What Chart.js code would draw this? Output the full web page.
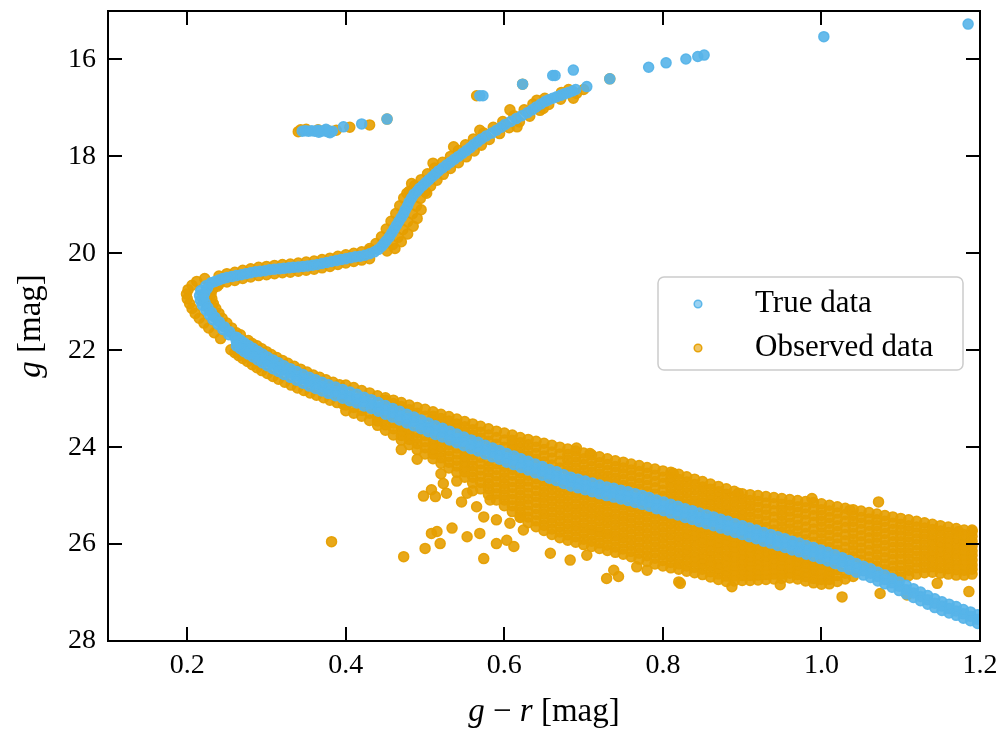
<!DOCTYPE html>
<html><head><meta charset="utf-8">
<script src="https://cdn.jsdelivr.net/npm/chart.js@4.4.1/dist/chart.umd.min.js"></script>
<style>html,body{margin:0;padding:0;background:#fff;}</style>
</head><body>
<canvas id="c" width="1003" height="731"></canvas>
<script>
// ---------- tick labels ----------
const xTickValues = [0.2, 0.4, 0.6, 0.8, 1.0, 1.2];
const yTickValues = [16, 18, 20, 22, 24, 26, 28];
const seriesNames = ['True data', 'Observed data'];

// ---------- True data (g-r, g) ----------
const trueHB = [[0.345,17.48],[0.349,17.47],[0.353,17.48],[0.357,17.47],[0.361,17.48],[0.365,17.46],[0.369,17.48],[0.373,17.47],[0.377,17.49],[0.380,17.51],[0.383,17.48],[0.375,17.44],[0.366,17.50],[0.397,17.39],[0.420,17.33],[0.452,17.23]];
const trueTop = [[0.569,16.75],[0.573,16.75],[0.623,16.51],[0.661,16.33],[0.664,16.33],[0.687,16.22],[0.704,16.56],[0.733,16.40],[0.782,16.16],[0.804,16.07],[0.829,15.99],[0.844,15.94],[0.852,15.91],[1.003,15.53],[1.185,15.27]];
const trueRGB = [[0.690,16.62],[0.686,16.65],[0.681,16.68],[0.676,16.71],[0.671,16.74],[0.666,16.77],[0.661,16.80],[0.656,16.83],[0.652,16.86],[0.646,16.92],[0.640,16.98],[0.635,17.04],[0.629,17.10],[0.622,17.16],[0.615,17.22],[0.608,17.28],[0.601,17.34],[0.596,17.40],[0.590,17.46],[0.584,17.52],[0.577,17.58],[0.571,17.64],[0.566,17.70],[0.561,17.76],[0.557,17.82],[0.552,17.88],[0.547,17.94],[0.542,18.00],[0.537,18.06],[0.532,18.12],[0.527,18.18],[0.522,18.24],[0.517,18.30],[0.513,18.36],[0.509,18.42],[0.505,18.48],[0.501,18.54],[0.497,18.60],[0.493,18.66],[0.490,18.72],[0.486,18.78],[0.483,18.86],[0.480,18.94],[0.478,19.02],[0.475,19.10],[0.473,19.18],[0.470,19.26],[0.467,19.34],[0.464,19.42],[0.461,19.50],[0.458,19.58],[0.455,19.66],[0.451,19.74],[0.448,19.80],[0.445,19.86],[0.441,19.92],[0.436,19.97],[0.430,20.01]];
const trueSGB = [[0.424,20.04],[0.418,20.06],[0.412,20.07],[0.406,20.09],[0.400,20.11],[0.394,20.13],[0.388,20.15],[0.382,20.17],[0.376,20.19],[0.370,20.21],[0.364,20.23],[0.358,20.245],[0.352,20.26],[0.346,20.27],[0.340,20.28],[0.334,20.29],[0.328,20.30],[0.322,20.31],[0.316,20.32],[0.310,20.33],[0.304,20.34],[0.298,20.36],[0.292,20.37],[0.286,20.38],[0.280,20.40],[0.274,20.42],[0.268,20.44],[0.262,20.46],[0.256,20.48],[0.250,20.50],[0.245,20.52],[0.240,20.55],[0.235,20.58],[0.230,20.61]];
const trueTurnoffLeft = [[0.2235,20.67],[0.2170,20.77],[0.2155,20.87],[0.2165,20.97],[0.2190,21.07],[0.2235,21.17],[0.2280,21.27],[0.2325,21.37],[0.2390,21.47],[0.2450,21.57],[0.2525,21.68]];
const trueTurnoffRight = [[0.2255,20.72],[0.2220,20.82],[0.2205,20.92],[0.2225,21.02],[0.2260,21.12],[0.2305,21.22],[0.2350,21.32],[0.2405,21.42],[0.2470,21.52],[0.2535,21.62],[0.2600,21.73]];
const trueBandColor = [0.262,0.267,0.272,0.277,0.283,0.289,0.295,0.301,0.308,0.315,0.322,0.330,0.338,0.346,0.354,0.362,0.370,0.378,0.387,0.396,0.405,0.414,0.423,0.432,0.441,0.450,0.459,0.468,0.477,0.486,0.495,0.504,0.513,0.522,0.531,0.540,0.549,0.558,0.567,0.576,0.585,0.594,0.603,0.612,0.621,0.630,0.639,0.648,0.657,0.666,0.675,0.684,0.693,0.702,0.711,0.720,0.729,0.738,0.747,0.756,0.765,0.774,0.783,0.792,0.801,0.810,0.819,0.828,0.837,0.846,0.855,0.864,0.873,0.882,0.891,0.900,0.909,0.918,0.927,0.936,0.945,0.954,0.963,0.972,0.981,0.990,0.999,1.008,1.017,1.026,1.035,1.044,1.053,1.062,1.071,1.080,1.089,1.098,1.107,1.116,1.125,1.134,1.143,1.152,1.161,1.170,1.179,1.188,1.197];
const trueBandMagCenter = [21.82,21.88,21.94,21.99,22.05,22.11,22.17,22.23,22.29,22.35,22.41,22.47,22.53,22.59,22.65,22.70,22.75,22.80,22.85,22.90,22.95,23.00,23.06,23.11,23.17,23.23,23.29,23.35,23.41,23.47,23.53,23.59,23.65,23.70,23.76,23.82,23.88,23.94,23.99,24.05,24.11,24.16,24.22,24.27,24.33,24.38,24.44,24.49,24.55,24.60,24.66,24.71,24.75,24.79,24.83,24.87,24.91,24.94,24.98,25.01,25.05,25.09,25.13,25.18,25.22,25.27,25.31,25.36,25.40,25.45,25.49,25.53,25.58,25.62,25.67,25.71,25.76,25.80,25.85,25.89,25.94,25.98,26.03,26.07,26.12,26.16,26.21,26.26,26.31,26.37,26.43,26.49,26.55,26.60,26.67,26.73,26.80,26.87,26.94,27.01,27.08,27.15,27.22,27.28,27.33,27.38,27.44,27.49,27.55];
const trueBandMagUpper = [21.73,21.79,21.85,21.90,21.96,22.02,22.08,22.14,22.20,22.26,22.32,22.38,22.44,22.50,22.56,22.61,22.66,22.71,22.76,22.81,22.86,22.91,22.97,23.02,23.08,23.14,23.20,23.26,23.32,23.38,23.44,23.50,23.56,23.61,23.67,23.73,23.79,23.85,23.90,23.96,24.02,24.07,24.13,24.18,24.24,24.29,24.35,24.40,24.46,24.51,24.57,24.62,24.66,24.70,24.74,24.78,24.82,24.85,24.89,24.92,24.96,25.00,25.04,25.09,25.13,25.18,25.22,25.27,25.31,25.36,25.40,25.44,25.49,25.53,25.58,25.62,25.67,25.71,25.76,25.80,25.85,25.89,25.94,25.98,26.03,26.07,26.12,26.17,26.22,26.28,26.34,26.40,26.46,26.51,26.58,26.64,26.71,26.78,26.85,26.92,26.99,27.06,27.13,27.19,27.24,27.29,27.35,27.40,27.46];
const trueBandMagLower = [21.91,21.97,22.03,22.08,22.14,22.20,22.26,22.32,22.38,22.44,22.50,22.56,22.62,22.68,22.74,22.79,22.84,22.89,22.94,22.99,23.04,23.09,23.15,23.20,23.26,23.32,23.38,23.44,23.50,23.56,23.62,23.68,23.74,23.79,23.85,23.91,23.97,24.03,24.08,24.14,24.20,24.25,24.31,24.36,24.42,24.47,24.53,24.58,24.64,24.69,24.75,24.80,24.84,24.88,24.92,24.96,25.00,25.03,25.07,25.10,25.14,25.18,25.22,25.27,25.31,25.36,25.40,25.45,25.49,25.54,25.58,25.62,25.67,25.71,25.76,25.80,25.85,25.89,25.94,25.98,26.03,26.07,26.12,26.16,26.21,26.25,26.30,26.35,26.40,26.46,26.52,26.58,26.64,26.69,26.76,26.82,26.89,26.96,27.03,27.10,27.17,27.24,27.31,27.37,27.42,27.47,27.53,27.58,27.64];

// ---------- Observed data (g-r, g) ----------
const obsHBTop = [[0.340,17.49],[0.343,17.45],[0.350,17.44],[0.365,17.45],[0.378,17.47],[0.388,17.46],[0.405,17.40],[0.430,17.35],[0.452,17.23],[0.565,16.75],[0.623,16.51],[0.733,16.40],[0.687,16.80],[0.641,16.84],[0.649,17.01],[0.616,17.39],[0.607,17.04],[0.700,16.62],[0.681,16.62]];
const obsRGB = [[0.672,16.68],[0.691,16.70],[0.651,16.80],[0.671,16.82],[0.636,16.92],[0.656,16.93],[0.625,17.04],[0.645,17.05],[0.612,17.16],[0.632,17.17],[0.598,17.28],[0.619,17.29],[0.586,17.40],[0.606,17.41],[0.574,17.52],[0.594,17.53],[0.561,17.64],[0.581,17.65],[0.551,17.76],[0.571,17.77],[0.542,17.88],[0.562,17.89],[0.532,18.00],[0.552,18.01],[0.522,18.12],[0.542,18.13],[0.512,18.24],[0.532,18.25],[0.503,18.36],[0.523,18.37],[0.495,18.48],[0.515,18.49],[0.487,18.60],[0.507,18.61],[0.480,18.72],[0.500,18.73],[0.473,18.86],[0.494,18.87],[0.468,19.02],[0.489,19.03],[0.463,19.18],[0.484,19.19],[0.457,19.34],[0.478,19.35],[0.451,19.50],[0.472,19.51],[0.445,19.66],[0.466,19.67],[0.438,19.80],[0.459,19.82],[0.430,19.90],[0.452,19.95],[0.495,19.10],[0.490,19.28],[0.485,19.44],[0.478,19.60],[0.470,19.76],[0.462,19.90],[0.569,17.46],[0.536,17.80],[0.510,18.14],[0.483,18.56],[0.477,18.76],[0.502,18.76]];
const obsSGB = [[0.43,19.94],[0.43,20.11],[0.42,19.97],[0.42,20.14],[0.41,20.00],[0.41,20.17],[0.40,20.03],[0.40,20.20],[0.39,20.06],[0.39,20.23],[0.38,20.10],[0.38,20.27],[0.37,20.13],[0.37,20.30],[0.36,20.16],[0.36,20.33],[0.35,20.18],[0.35,20.35],[0.34,20.20],[0.34,20.37],[0.33,20.22],[0.33,20.39],[0.32,20.23],[0.32,20.40],[0.31,20.25],[0.31,20.42],[0.30,20.27],[0.30,20.44],[0.29,20.29],[0.29,20.46],[0.28,20.32],[0.28,20.49],[0.27,20.35],[0.27,20.52],[0.26,20.39],[0.26,20.56],[0.25,20.42],[0.25,20.59],[0.24,20.47],[0.24,20.64]];
const obsTurnoff = [[0.222,20.52],[0.212,20.58],[0.206,20.66],[0.201,20.75],[0.199,20.84],[0.200,20.94],[0.203,21.04],[0.206,21.14],[0.210,21.24],[0.215,21.34],[0.221,21.44],[0.227,21.54],[0.234,21.64],[0.242,21.76],[0.238,20.68],[0.232,20.74],[0.230,20.84],[0.231,20.94],[0.233,21.04],[0.236,21.14],[0.240,21.24],[0.244,21.34],[0.250,21.44],[0.256,21.54],[0.262,21.64]];
const obsUpperMS = [[0.267,21.68],[0.277,21.80],[0.288,21.91],[0.300,22.03],[0.313,22.15],[0.327,22.27],[0.343,22.39],[0.359,22.51],[0.375,22.61],[0.392,22.71],[0.282,21.86],[0.294,21.97],[0.306,22.09],[0.320,22.21],[0.335,22.33],[0.351,22.45],[0.367,22.56],[0.384,22.66],[0.255,21.99],[0.265,22.11],[0.276,22.23],[0.288,22.36],[0.301,22.48],[0.315,22.60],[0.331,22.72],[0.347,22.83],[0.363,22.93],[0.380,23.03],[0.397,23.12],[0.260,22.05],[0.270,22.17],[0.282,22.30],[0.294,22.42],[0.308,22.54],[0.323,22.66],[0.339,22.78],[0.355,22.88],[0.372,22.98],[0.389,23.08]];
const obsCloudColor = [0.40,0.41,0.42,0.43,0.44,0.45,0.46,0.47,0.48,0.49,0.50,0.51,0.52,0.53,0.54,0.55,0.56,0.57,0.58,0.59,0.60,0.61,0.62,0.63,0.64,0.65,0.66,0.67,0.68,0.69,0.70,0.71,0.72,0.73,0.74,0.75,0.76,0.77,0.78,0.79,0.80,0.81,0.82,0.83,0.84,0.85,0.86,0.87,0.88,0.89,0.90,0.91,0.92,0.93,0.94,0.95,0.96,0.97,0.98,0.99,1.00,1.01,1.02,1.03,1.04,1.05,1.06,1.07,1.08,1.09,1.10,1.11,1.12,1.13,1.14,1.15,1.16,1.17,1.18,1.19];
const obsCloudMags = [
[22.72,23.13,23.25],[22.77,23.18,23.30],[22.83,23.24,23.36],[22.88,23.30,23.45],[22.94,23.37,23.46,23.55],
[22.98,23.03,23.43,23.54,23.65],[23.03,23.10,23.50,23.62,23.75],[23.08,23.16,23.56,23.66,23.76,23.85],[23.13,23.23,23.63,23.74,23.84,23.95],[23.18,23.30,23.70,23.82,23.93,24.05],
[23.22,23.36,23.76,23.89,24.01,24.14],[23.27,23.36,23.43,23.83,23.93,24.04,24.14,24.24],[23.32,23.41,23.49,23.89,24.00,24.11,24.22,24.33],[23.37,23.46,23.55,23.95,24.07,24.19,24.31,24.43],[23.42,23.52,23.62,24.02,24.14,24.27,24.39,24.52],
[23.47,23.58,23.69,24.09,24.20,24.30,24.41,24.51,24.62],[23.52,23.64,23.75,24.15,24.27,24.39,24.50,24.62,24.74],[23.57,23.69,23.81,24.21,24.34,24.47,24.60,24.73,24.86],[23.62,23.75,23.88,24.28,24.40,24.51,24.63,24.75,24.86,24.98],[23.67,23.80,23.94,24.34,24.46,24.59,24.71,24.84,24.96,25.09],
[23.71,23.85,24.00,24.40,24.52,24.63,24.75,24.86,24.98,25.09,25.21],[23.75,23.86,23.96,24.06,24.46,24.58,24.71,24.83,24.96,25.08,25.21,25.33],[23.80,23.91,24.02,24.13,24.53,24.65,24.76,24.88,24.99,25.11,25.22,25.34,25.45],[23.84,23.95,24.07,24.18,24.58,24.70,24.82,24.95,25.07,25.19,25.32,25.44,25.56],[23.88,24.00,24.13,24.25,24.65,24.77,24.90,25.02,25.14,25.27,25.39,25.52,25.64],
[23.92,24.05,24.18,24.30,24.70,24.81,24.93,25.04,25.15,25.27,25.38,25.49,25.61,25.72],[23.96,24.10,24.23,24.37,24.77,24.88,25.00,25.11,25.23,25.34,25.46,25.57,25.69,25.80],[24.00,24.14,24.29,24.43,24.83,24.95,25.06,25.18,25.29,25.41,25.52,25.64,25.75,25.87],[24.04,24.15,24.27,24.38,24.49,24.89,25.00,25.12,25.23,25.35,25.46,25.58,25.69,25.81,25.92],[24.08,24.20,24.31,24.43,24.54,24.94,25.05,25.17,25.28,25.39,25.51,25.62,25.73,25.85,25.96],
[24.12,24.24,24.36,24.48,24.59,24.99,25.10,25.22,25.33,25.44,25.56,25.67,25.78,25.90,26.01],[24.16,24.28,24.40,24.52,24.63,25.03,25.14,25.26,25.37,25.48,25.60,25.71,25.82,25.94,26.05],[24.20,24.32,24.44,24.56,24.67,25.07,25.18,25.30,25.41,25.52,25.64,25.75,25.86,25.98,26.09],[24.24,24.36,24.48,24.60,24.71,25.11,25.22,25.34,25.45,25.56,25.68,25.79,25.90,26.02,26.13],[24.28,24.40,24.52,24.64,24.75,25.15,25.26,25.38,25.49,25.60,25.72,25.83,25.94,26.06,26.17],
[24.31,24.43,24.55,24.67,24.79,25.19,25.30,25.42,25.53,25.64,25.76,25.87,25.98,26.10,26.21],[24.35,24.47,24.59,24.71,24.83,25.23,25.34,25.46,25.57,25.69,25.80,25.92,26.03,26.15,26.26],[24.38,24.50,24.63,24.75,24.87,25.27,25.39,25.50,25.62,25.73,25.85,25.96,26.08,26.19,26.31],[24.42,24.54,24.67,24.79,24.92,25.32,25.44,25.55,25.67,25.78,25.90,26.01,26.13,26.24,26.36],[24.45,24.58,24.71,24.84,24.97,25.37,25.49,25.60,25.72,25.83,25.95,26.06,26.18,26.29,26.41],
[24.49,24.62,24.75,24.89,25.02,25.42,25.53,25.65,25.76,25.88,25.99,26.11,26.22,26.34,26.45],[24.52,24.63,24.74,24.85,24.96,25.07,25.47,25.58,25.70,25.81,25.92,26.04,26.15,26.26,26.38,26.49],[24.56,24.67,24.78,24.89,25.00,25.11,25.51,25.62,25.74,25.85,25.96,26.07,26.19,26.30,26.41,26.52],[24.61,24.72,24.83,24.94,25.06,25.17,25.57,25.68,25.79,25.90,26.01,26.12,26.23,26.34,26.45,26.56],[24.66,24.77,24.88,25.00,25.11,25.22,25.62,25.73,25.83,25.94,26.05,26.16,26.27,26.37,26.48,26.59],
[24.71,24.82,24.93,25.04,25.15,25.26,25.66,25.77,25.88,25.98,26.09,26.20,26.31,26.41,26.52,26.63],[24.76,24.87,24.98,25.09,25.20,25.31,25.71,25.82,25.93,26.03,26.14,26.25,26.36,26.46,26.57,26.68],[24.81,24.92,25.03,25.14,25.25,25.36,25.76,25.87,25.98,26.08,26.19,26.30,26.41,26.51,26.62,26.73],[24.86,24.97,25.08,25.19,25.30,25.41,25.81,25.92,26.02,26.13,26.24,26.34,26.45,26.56,26.66,26.77],[24.91,25.02,25.13,25.24,25.35,25.46,25.86,25.96,26.06,26.16,26.26,26.36,26.46,26.56,26.66,26.76],
[24.96,25.07,25.18,25.29,25.40,25.51,25.91,26.02,26.12,26.23,26.33,26.44,26.54,26.65,26.75],[24.98,25.10,25.21,25.33,25.44,25.56,25.96,26.06,26.16,26.26,26.36,26.45,26.55,26.65,26.75],[25.00,25.12,25.24,25.37,25.49,25.61,26.01,26.11,26.22,26.32,26.43,26.53,26.64,26.74],[25.02,25.15,25.28,25.40,25.53,25.66,26.06,26.16,26.25,26.35,26.44,26.54,26.63,26.73],[25.04,25.17,25.31,25.44,25.58,25.71,26.11,26.21,26.31,26.42,26.52,26.62,26.72],
[25.06,25.18,25.30,25.41,25.53,25.64,25.76,26.16,26.25,26.34,26.44,26.53,26.62,26.71],[25.08,25.20,25.32,25.44,25.57,25.69,25.81,26.21,26.31,26.41,26.50,26.60,26.70],[25.10,25.23,25.35,25.48,25.61,25.73,25.86,26.26,26.35,26.44,26.54,26.63,26.72],[25.12,25.25,25.38,25.51,25.65,25.78,25.91,26.31,26.40,26.49,26.58,26.67,26.76],[25.14,25.28,25.41,25.55,25.69,25.82,25.96,26.36,26.45,26.54,26.62,26.71,26.80],
[25.17,25.29,25.41,25.53,25.65,25.77,25.89,26.01,26.41,26.52,26.62,26.73,26.83],[25.20,25.32,25.45,25.57,25.70,25.82,25.95,26.07,26.47,26.56,26.65,26.73,26.82],[25.23,25.36,25.49,25.62,25.74,25.87,26.00,26.13,26.53,26.65,26.77],[25.26,25.39,25.53,25.66,25.80,25.93,26.07,26.20,26.60,26.72],[25.29,25.41,25.53,25.65,25.78,25.90,26.02,26.14,26.26,26.67],
[25.32,25.45,25.57,25.70,25.83,25.95,26.08,26.20,26.33],[25.35,25.48,25.61,25.74,25.87,26.00,26.13,26.26,26.39],[25.38,25.50,25.62,25.74,25.86,25.98,26.10,26.22,26.34,26.46],[25.41,25.53,25.66,25.78,25.91,26.03,26.16,26.28,26.41,26.53],[25.44,25.57,25.70,25.82,25.95,26.07,26.20,26.32,26.45,26.57,26.70],
[25.47,25.59,25.71,25.83,25.95,26.07,26.19,26.31,26.44,26.56,26.68],[25.50,25.62,25.73,25.85,25.96,26.08,26.19,26.31,26.42,26.54,26.65],[25.53,25.65,25.77,25.89,26.01,26.13,26.25,26.37,26.49,26.62],[25.56,25.67,25.79,25.90,26.02,26.13,26.25,26.36,26.48,26.59],[25.59,25.70,25.81,25.92,26.03,26.14,26.25,26.36,26.47,26.58],
[25.62,25.73,25.84,25.95,26.06,26.16,26.27,26.38,26.49,26.60],[25.65,25.76,25.87,25.97,26.08,26.19,26.30,26.40,26.51,26.62],[25.68,25.79,25.89,26.00,26.11,26.21,26.32,26.43,26.53,26.64],[25.71,25.81,25.92,26.02,26.12,26.23,26.33,26.43,26.54,26.64],[25.74,25.84,25.94,26.04,26.14,26.23,26.33,26.43,26.52,26.62]
];
const obsOutliers = [[0.382,25.95],[0.473,26.26],[0.500,26.09],[0.519,25.99],[0.508,25.78],[0.515,25.74],[0.534,25.67],[0.498,25.01],[0.508,24.88],[0.513,25.02],[0.523,24.75],[0.527,24.95],[0.546,25.13],[0.553,24.95],[0.565,25.23],[0.574,25.44],[0.582,25.09],[0.574,26.30],[0.553,25.85],[0.569,25.78],[0.590,25.99],[0.603,25.92],[0.612,26.05],[0.620,25.44],[0.590,25.50],[0.607,25.57],[0.624,25.71],[0.658,26.19],[0.683,26.33],[0.704,26.23],[0.729,26.71],[0.744,26.67],[0.738,26.54],[0.767,26.47],[0.780,26.54],[0.820,26.78],[0.691,24.02],[0.708,24.13],[0.988,25.06],[1.072,25.13],[1.036,25.30],[1.190,25.71],[1.173,25.74],[0.895,24.95],[0.813,24.54],[1.026,27.09],[1.074,27.02],[0.822,26.81],[0.887,26.88],[0.948,26.84],[1.186,26.98],[1.108,27.05],[1.146,26.81],[0.470,24.05],[0.490,24.25],[0.520,24.55],[0.540,24.70],[0.560,24.90]];

// ---------- assemble ----------
const toPt = ([x, y]) => ({x, y});
const truePoints = [
  ...trueHB, ...trueTop, ...trueRGB, ...trueSGB, ...trueTurnoffLeft, ...trueTurnoffRight
].map(toPt)
 .concat(trueBandColor.map((c, i) => ({x: c, y: trueBandMagUpper[i]})))
 .concat(trueBandColor.map((c, i) => ({x: c, y: trueBandMagCenter[i]})))
 .concat(trueBandColor.map((c, i) => ({x: c, y: trueBandMagLower[i]})));
const cloudPoints = [];
obsCloudColor.forEach((c, i) => obsCloudMags[i].forEach(m => cloudPoints.push({x: c, y: m})));
const obsPoints = [...obsHBTop, ...obsRGB, ...obsSGB, ...obsTurnoff, ...obsUpperMS, ...obsOutliers].map(toPt).concat(cloudPoints);

const BLUE_FILL = 'rgba(86,180,233,0.9)';
const BLUE_EDGE = 'rgba(86,180,233,0.95)';
const ORANGE_FILL = 'rgba(230,159,0,0.9)';
const ORANGE_EDGE = 'rgba(230,159,0,0.95)';
const SERIF = '"Liberation Serif", "DejaVu Serif", serif';

const framePlugin = {
  id: 'frame',
  afterDatasetsDraw(chart) {
    const {ctx, chartArea: a, scales: {x, y}} = chart;
    ctx.save();
    ctx.strokeStyle = '#000';
    ctx.lineWidth = 2;
    ctx.beginPath();
    xTickValues.forEach(v => {
      const p = Math.round(x.getPixelForValue(v));
      ctx.moveTo(p, a.bottom); ctx.lineTo(p, a.bottom - 14);
      ctx.moveTo(p, a.top); ctx.lineTo(p, a.top + 14);
    });
    yTickValues.forEach(v => {
      const p = Math.round(y.getPixelForValue(v));
      ctx.moveTo(a.left, p); ctx.lineTo(a.left + 14, p);
      ctx.moveTo(a.right, p); ctx.lineTo(a.right - 14, p);
    });
    ctx.stroke();
    ctx.strokeRect(a.left, a.top, a.right - a.left, a.bottom - a.top);
    ctx.restore();
  },
  afterDraw(chart) {
    const {ctx, chartArea: a} = chart;
    ctx.save();
    const drawMixed = (parts, cx, cy, size) => {
      let total = 0;
      parts.forEach(p => { ctx.font = (p[1] ? 'italic ' : '') + size + 'px ' + SERIF; p.w = ctx.measureText(p[0]).width; total += p.w; });
      let xx = cx - total / 2;
      ctx.textBaseline = 'middle'; ctx.textAlign = 'left'; ctx.fillStyle = '#000';
      parts.forEach(p => { ctx.font = (p[1] ? 'italic ' : '') + size + 'px ' + SERIF; ctx.fillText(p[0], xx, cy); xx += p.w; });
    };
    drawMixed([['g', true], [' \u2212 ', false], ['r', true], [' [mag]', false]], (a.left + a.right) / 2, 712, 33);
    ctx.save();
    ctx.translate(31, (a.top + a.bottom) / 2);
    ctx.rotate(-Math.PI / 2);
    drawMixed([['g', true], [' [mag]', false]], 0, 0, 33);
    ctx.restore();

    // legend
    const bw = 305, bh = 93;
    const bx = a.right - 17 - bw, by = (a.top + a.bottom) / 2 - 49;
    ctx.beginPath();
    ctx.roundRect(bx, by, bw, bh, 6);
    ctx.fillStyle = 'rgba(255,255,255,0.8)';
    ctx.fill();
    ctx.strokeStyle = '#cccccc';
    ctx.lineWidth = 1.5;
    ctx.stroke();
    const fills = ['rgba(86,180,233,0.6)', 'rgba(230,159,0,0.6)'], edges = [BLUE_EDGE, ORANGE_EDGE];
    seriesNames.forEach((name, i) => {
      const yy = by + 27 + i * 44;
      ctx.beginPath();
      ctx.arc(bx + 40, yy, 3.8, 0, Math.PI * 2);
      ctx.fillStyle = fills[i]; ctx.fill();
      ctx.strokeStyle = edges[i]; ctx.lineWidth = 1.5; ctx.stroke();
      ctx.fillStyle = '#000';
      ctx.font = '31px ' + SERIF;
      ctx.textAlign = 'left'; ctx.textBaseline = 'middle';
      ctx.fillText(name, bx + 97, yy);
    });
    ctx.restore();
  }
};

new Chart(document.getElementById('c'), {
  type: 'scatter',
  data: {
    datasets: [
      {label: seriesNames[0], data: truePoints, pointBackgroundColor: BLUE_FILL, pointBorderColor: BLUE_EDGE, backgroundColor: BLUE_FILL, borderColor: BLUE_EDGE, pointBorderWidth: 1.5, pointRadius: 5, pointHoverRadius: 5},
      {label: seriesNames[1], data: obsPoints, pointBackgroundColor: ORANGE_FILL, pointBorderColor: ORANGE_EDGE, backgroundColor: ORANGE_FILL, borderColor: ORANGE_EDGE, pointBorderWidth: 1.5, pointRadius: 5, pointHoverRadius: 5}
    ]
  },
  options: {
    responsive: false,
    animation: false,
    devicePixelRatio: 1,
    events: [],
    layout: {padding: {top: 11, right: 23, left: 0, bottom: 0}},
    plugins: {legend: {display: false}, tooltip: {enabled: false}},
    scales: {
      x: {
        type: 'linear', min: 0.1, max: 1.2,
        afterBuildTicks: s => { s.ticks = xTickValues.map(v => ({value: v})); },
        afterFit: s => { s.height = 90; s.paddingLeft = 0; s.paddingRight = 0; },
        grid: {display: false, drawTicks: false},
        border: {display: false},
        ticks: {font: {family: SERIF, size: 28}, color: '#000', padding: 8, maxRotation: 0, autoSkip: false,
          callback: v => Number(v).toFixed(1)}
      },
      y: {
        type: 'linear', min: 15, max: 28, reverse: true,
        afterBuildTicks: s => { s.ticks = yTickValues.map(v => ({value: v})); },
        afterFit: s => { s.width = 108; s.paddingTop = 0; s.paddingBottom = 0; },
        grid: {display: false, drawTicks: false},
        border: {display: false},
        ticks: {font: {family: SERIF, size: 28}, color: '#000', padding: 12, autoSkip: false,
          callback: v => String(v)}
      }
    }
  },
  plugins: [framePlugin]
});
</script>
</body></html>
